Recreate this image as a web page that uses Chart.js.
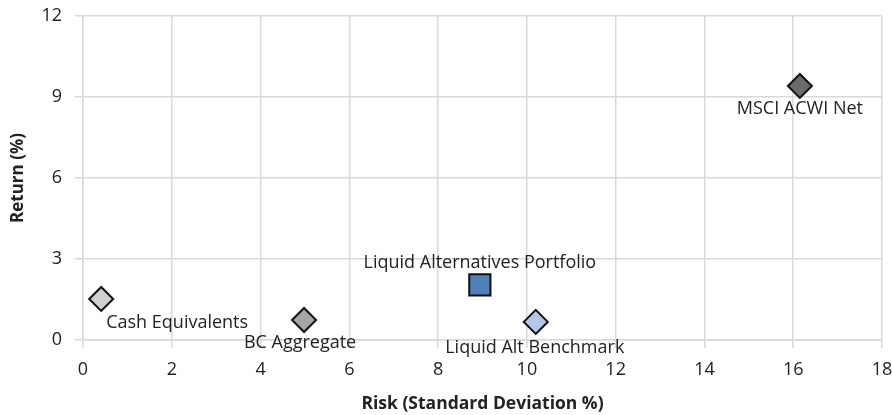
<!DOCTYPE html>
<html>
<head>
<meta charset="utf-8">
<script src="https://cdn.jsdelivr.net/npm/chart.js@4"></script>
<style>
html,body{margin:0;padding:0;background:#fff;}
#wrap{width:892px;height:415px;}
</style>
</head>
<body>
<div id="wrap"><canvas id="c" width="892" height="415"></canvas></div>
<script>
const names = ["Cash Equivalents", "BC Aggregate", "Liquid Alternatives Portfolio", "Liquid Alt Benchmark", "MSCI ACWI Net"];
const risk = [0.41, 4.98, 8.94, 10.2, 16.15];
const ret = [1.52, 0.74, 2.04, 0.67, 9.41];
const xTicks = [0, 2, 4, 6, 8, 10, 12, 14, 16, 18];
const yTicks = [0, 3, 6, 9, 12];

const fills = ["#d0d0d0", "#a5a5a5", "#4f80b8", "#b4c7e7", "#6b6b6b"];
const shapes = ["rectRot", "rectRot", "rect", "rectRot", "rectRot"];
const radii = [12, 12, 15, 12, 12];
// label placement: [dx, dy, align]
const labelPos = [[5, 24, "left"], [-4, 23, "center"], [0, -22, "center"], [-1, 26, "center"], [0, 23, "center"]];

const FONT = "'Open Sans', Lato, sans-serif";

const datasets = names.map((n, i) => ({
  label: n,
  data: [{x: risk[i], y: ret[i]}],
  backgroundColor: fills[i],
  borderColor: "#111",
  borderWidth: 2,
  pointStyle: shapes[i],
  pointRadius: radii[i],
  pointHoverRadius: radii[i]
}));

const labelPlugin = {
  id: "pointLabels",
  afterDatasetsDraw(chart) {
    const ctx = chart.ctx;
    ctx.save();
    ctx.font = "18px " + FONT;
    ctx.fillStyle = "#222";
    ctx.textBaseline = "middle";
    chart.data.datasets.forEach((ds, i) => {
      const el = chart.getDatasetMeta(i).data[0];
      const p = labelPos[i];
      ctx.textAlign = p[2];
      ctx.fillText(ds.label, el.x + p[0], el.y + p[1]);
    });
    ctx.restore();
  }
};

function trimPad(s, padRight, padTop) {
  if (padRight !== null) { s.paddingRight = padRight; if (s._margins) s._margins.right = padRight; }
  if (padTop !== null) { s.paddingTop = padTop; if (s._margins) s._margins.top = padTop; }
}

new Chart(document.getElementById("c"), {
  type: "scatter",
  data: { datasets },
  plugins: [labelPlugin],
  options: {
    responsive: false,
    animation: false,
    layout: { autoPadding: false, padding: { left: 0, right: 10, top: 16, bottom: 0 } },
    plugins: { legend: { display: false }, tooltip: { enabled: false } },
    scales: {
      x: {
        type: "linear",
        min: 0, max: 18,
        afterBuildTicks(s) { s.ticks = xTicks.map(v => ({value: v})); },
        afterFit(s) { s.height = 75; trimPad(s, 0, null); },
        grid: { color: "#d9d9d9", lineWidth: 1.5, tickLength: 8 },
        border: { color: "#d9d9d9", width: 1.5 },
        ticks: { padding: 2, color: "#222", font: { size: 18, family: FONT, lineHeight: 2.2 } },
        title: { display: true, text: "Risk (Standard Deviation %)", color: "#222",
                 font: { size: 17.5, weight: "bold", family: FONT }, padding: { top: 4, bottom: 0 } }
      },
      y: {
        type: "linear",
        min: 0, max: 12,
        afterBuildTicks(s) { s.ticks = yTicks.map(v => ({value: v})); },
        afterFit(s) { s.width = 83; trimPad(s, null, 0); },
        grid: { color: "#d9d9d9", lineWidth: 1.5, tickLength: 8 },
        border: { color: "#d9d9d9", width: 1.5 },
        ticks: { padding: 13, color: "#222", font: { size: 18, family: FONT } },
        title: { display: true, text: "Return (%)", color: "#222",
                 font: { size: 17, weight: "bold", family: FONT }, padding: { top: 8, bottom: 4 } }
      }
    }
  }
});
</script>
</body>
</html>
